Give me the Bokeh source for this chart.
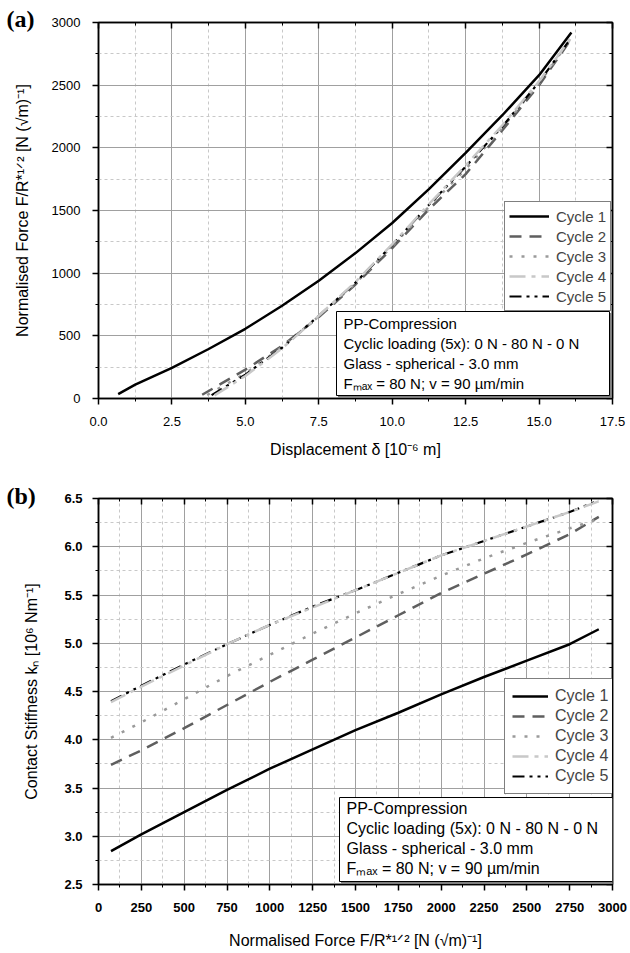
from bokeh.plotting import figure
from bokeh.models import (Range1d, LinearAxis, SingleIntervalTicker, NumeralTickFormatter,
                          Legend, LegendItem, Label, BoxAnnotation, CustomLabelingPolicy)
from bokeh.layouts import column
from bokeh.embed import file_html
from bokeh.resources import INLINE

# ---------------- data: panel (a) ----------------
a_c1_x = [0.67, 1.25, 2.5, 3.75, 5.0, 6.25, 7.5, 8.75, 10.0, 11.25, 12.5, 13.75, 15.0, 16.1]
a_c1_y = [35, 110, 245, 395, 556, 740, 940, 1160, 1400, 1670, 1960, 2260, 2580, 2920]
a_c2_x = [3.53, 3.75, 5.0, 6.25, 7.5, 8.75, 10.0, 11.25, 12.5, 13.75, 15.0, 16.1]
a_c2_y = [30, 60, 230, 420, 650, 910, 1200, 1510, 1790, 2140, 2500, 2870]
a_c3_x = [3.7, 5.0, 6.25, 7.5, 8.75, 10.0, 11.25, 12.5, 13.75, 15.0, 16.1]
a_c3_y = [28, 200, 410, 655, 920, 1215, 1530, 1830, 2160, 2515, 2875]
a_c4_x = [3.95, 5.0, 6.25, 7.5, 8.75, 10.0, 11.25, 12.5, 13.75, 15.0, 16.1]
a_c4_y = [25, 180, 400, 660, 930, 1230, 1550, 1860, 2180, 2530, 2880]
a_c5_x = [3.85, 5.0, 6.25, 7.5, 8.75, 10.0, 11.25, 12.5, 13.75, 15.0, 16.1]
a_c5_y = [27, 190, 405, 660, 925, 1225, 1545, 1850, 2170, 2525, 2880]

# ---------------- data: panel (b) ----------------
b_x = [73, 250, 500, 750, 1000, 1250, 1500, 1750, 2000, 2250, 2500, 2750, 2920]
b_c1_y = [2.845, 3.02, 3.25, 3.48, 3.70, 3.90, 4.10, 4.28, 4.47, 4.65, 4.82, 4.99, 5.145]
b_c2_y = [3.74, 3.89, 4.12, 4.36, 4.60, 4.83, 5.06, 5.29, 5.52, 5.72, 5.92, 6.13, 6.31]
b_c3_y = [4.02, 4.18, 4.42, 4.66, 4.88, 5.10, 5.31, 5.51, 5.70, 5.88, 6.04, 6.19, 6.29]
b_c4_y = [4.39, 4.55, 4.77, 4.99, 5.19, 5.37, 5.55, 5.73, 5.91, 6.06, 6.21, 6.36, 6.47]
b_c5_y = [4.40, 4.56, 4.78, 4.99, 5.19, 5.38, 5.55, 5.73, 5.91, 6.06, 6.21, 6.36, 6.48]

cycle_labels = ["Cycle 1", "Cycle 2", "Cycle 3", "Cycle 4", "Cycle 5"]
info_lines = ["PP-Compression",
              "Cyclic loading (5x): 0 N - 80 N - 0 N",
              "Glass - spherical - 3.0 mm",
              "F\u2098\u2090\u2093 = 80 N; v = 90 \u00b5m/min"]

FONT = "Liberation Sans"
SERIF = "Liberation Serif"

styles = [
    dict(line_color="black", line_width=2.5, line_dash="solid"),
    dict(line_color="#5f5f5f", line_width=2.5, line_dash="12 8"),
    dict(line_color="#9a9a9a", line_width=2.5, line_dash="3 9"),
    dict(line_color="#c8c8c8", line_width=2.5, line_dash="16 6 4 6"),
    dict(line_color="black", line_width=2.2, line_dash="12 5 3 5 3 5"),
]


def make_fig(width, height, mb, xr, yr, xint, yint, xfmt, yfmt, bold, tag, tag_standoff):
    p = figure(width=width, height=height, output_backend="svg", toolbar_location=None,
               x_range=Range1d(*xr), y_range=Range1d(*yr),
               min_border_left=mb[0], min_border_right=mb[1],
               min_border_top=mb[2], min_border_bottom=mb[3])
    p.background_fill_color = "white"
    p.border_fill_color = "white"
    p.outline_line_color = "black"
    p.outline_line_width = 1.5
    # panel tag "(a)" / "(b)" as the figure title
    p.title.text = tag
    p.title.align = "left"
    p.title.offset = -92
    p.title.standoff = tag_standoff
    p.title.vertical_align = "bottom"
    p.title.text_font = SERIF
    p.title.text_font_size = "24px"
    p.title.text_font_style = "bold"
    p.title.text_color = "black"
    xt = SingleIntervalTicker(interval=xint, num_minor_ticks=2)
    yt = SingleIntervalTicker(interval=yint, num_minor_ticks=2)
    xa = p.below[0]
    ya = p.left[0]
    xa.ticker = xt
    ya.ticker = yt
    p.xgrid[0].ticker = xt
    p.ygrid[0].ticker = yt
    xa.formatter = NumeralTickFormatter(format=xfmt)
    ya.formatter = NumeralTickFormatter(format=yfmt)
    for g in (p.xgrid[0], p.ygrid[0]):
        g.grid_line_color = "#a0a0a0"
        g.grid_line_width = 1
        g.minor_grid_line_color = "#c8c8c8"
        g.minor_grid_line_dash = "3 3"
        g.minor_grid_line_width = 1
    for ax in (xa, ya):
        ax.axis_line_color = "black"
        ax.axis_line_width = 1.5
        ax.major_tick_line_color = "black"
        ax.major_tick_line_width = 1.5
        ax.minor_tick_line_color = "black"
        ax.minor_tick_line_width = 1
        ax.major_tick_out = 6
        ax.major_tick_in = 0
        ax.minor_tick_out = 3
        ax.minor_tick_in = 0
        ax.major_label_text_font = FONT
        ax.major_label_text_font_size = "13px"
        ax.major_label_text_color = "black"
        ax.major_label_text_font_style = "bold" if bold else "normal"
        ax.axis_label_text_font = FONT
        ax.axis_label_text_font_size = "16px"
        ax.axis_label_text_font_style = "normal"
        ax.axis_label_text_color = "black"
    # mirrored axes: ticks pointing inward, no labels
    for loc, tk in (("right", yt), ("above", xt)):
        ax = LinearAxis(ticker=tk)
        ax.major_label_policy = CustomLabelingPolicy(code="for (const i of indices) indices.unset(i)")
        ax.major_label_text_font_size = "0px"
        ax.major_label_standoff = 0
        ax.axis_label_standoff = 0
        ax.axis_line_color = "black"
        ax.axis_line_width = 1.5
        ax.major_tick_line_color = "black"
        ax.major_tick_line_width = 1.5
        ax.minor_tick_line_color = "black"
        ax.major_tick_in = 6
        ax.major_tick_out = 0
        ax.minor_tick_in = 3
        ax.minor_tick_out = 0
        p.add_layout(ax, loc)
    return p, xa, ya


def add_legend_and_box(p, renderers, leg_xy, fs, pad, gw, stand, box, rows_y, text_x):
    legend = Legend(items=[LegendItem(label=lab, renderers=[r]) for lab, r in zip(cycle_labels, renderers)],
                    location=leg_xy)
    legend.border_line_color = "black"
    legend.border_line_width = 1
    legend.background_fill_color = "white"
    legend.background_fill_alpha = 1
    legend.label_text_font = FONT
    legend.label_text_font_size = fs
    legend.label_height = 20
    legend.glyph_height = 20
    legend.glyph_width = gw
    legend.spacing = 0
    legend.padding = pad
    legend.margin = 0
    legend.label_standoff = stand
    p.add_layout(legend)
    l, r, t, b = box
    shadow = BoxAnnotation(left=l + 2, right=r + 2, top=t - 2, bottom=b - 2,
                           left_units="screen", right_units="screen", top_units="screen", bottom_units="screen",
                           fill_color="#808080", fill_alpha=1, line_color="#808080", line_alpha=1)
    white = BoxAnnotation(left=l, right=r, top=t, bottom=b,
                          left_units="screen", right_units="screen", top_units="screen", bottom_units="screen",
                          fill_color="white", fill_alpha=1, line_color="black", line_width=1, line_alpha=1)
    p.add_layout(shadow)
    p.add_layout(white)
    for txt, yy in zip(info_lines, rows_y):
        p.add_layout(Label(x=text_x, y=yy, x_units="screen", y_units="screen", text=txt,
                           text_font=FONT, text_font_size=fs, text_baseline="middle",
                           text_align="left", text_color="black"))


# ---------------- panel (a): frame x 98..612, y 22..400 ----------------
pa, pa_x, pa_y = make_fig(630, 460, (98, 18, 22, 60), (0, 17.5), (0, 3000), 2.5, 500, "0.0", "0", False,
                          "(a)", -18)
pa_x.axis_label = "Displacement \u03b4 [10\u207b\u2076 m]"
pa_y.axis_label = "Normalised Force F/R*\u00b9\u141f\u00b2 [N (\u221am)\u207b\u00b9]"
pa_x.major_label_standoff = 12
pa_y.major_label_standoff = 12
pa_x.axis_label_standoff = 12
pa_y.axis_label_standoff = 18
a_data = [(a_c1_x, a_c1_y), (a_c2_x, a_c2_y), (a_c3_x, a_c3_y), (a_c4_x, a_c4_y), (a_c5_x, a_c5_y)]
ra = [None] * 5
for i in (0, 1, 2, 4, 3):
    ra[i] = pa.line(a_data[i][0], a_data[i][1], **styles[i])
add_legend_and_box(pa, ra, (406, 87), "15px", 4, 40, 7,
                   (336 - 98, 609 - 98, 400 - 313, 400 - 397),
                   [400 - 325, 400 - 345, 400 - 365, 400 - 385], 343 - 98)

# ---------------- panel (b): frame x 97..617, y 498..884 ----------------
pb, pb_x, pb_y = make_fig(630, 493, (97, 9, 38, 69), (0, 3000), (2.5, 6.5), 250, 0.5, "0", "0.0", True,
                          "(b)", -20)
pb_x.axis_label = "Normalised Force F/R*\u00b9\u141f\u00b2 [N (\u221am)\u207b\u00b9]"
pb_y.axis_label = "Contact Stiffness k\u2099 [10\u2076 Nm\u207b\u00b9]"
pb_x.major_label_standoff = 12
pb_y.major_label_standoff = 10
pb_x.axis_label_standoff = 17
pb_y.axis_label_standoff = 21
b_ys = [b_c1_y, b_c2_y, b_c3_y, b_c4_y, b_c5_y]
rb = [None] * 5
for i in (0, 1, 2, 4, 3):
    rb[i] = pb.line(b_x, b_ys[i], **styles[i])
add_legend_and_box(pb, rb, (406, 90), "16px", 7, 36, 7,
                   (338 - 97, 611 - 97, 884 - 797, 884 - 881),
                   [884 - 808, 884 - 828, 884 - 848, 884 - 868], 345 - 97)

layout = column(pa, pb, spacing=0)
open("out.html", "w").write(file_html(layout, INLINE))
